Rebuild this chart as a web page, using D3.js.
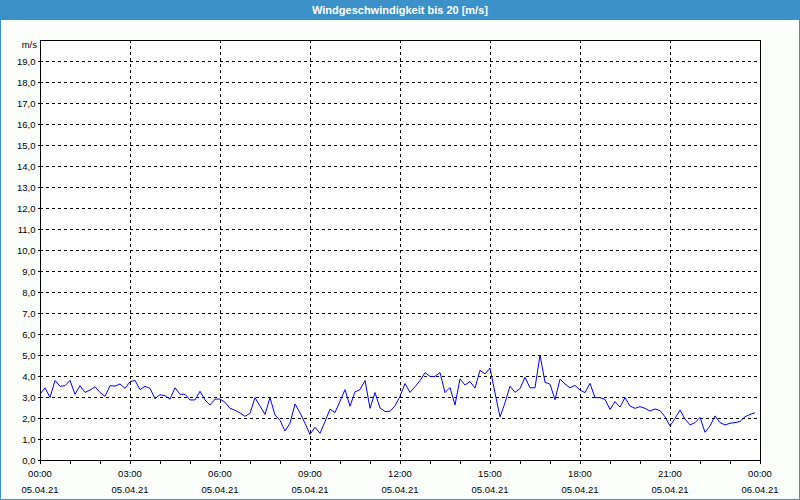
<!DOCTYPE html>
<html>
<head>
<meta charset="utf-8">
<script src="https://cdn.jsdelivr.net/npm/d3@7"></script>
<style>
html,body{margin:0;padding:0;background:#fcfefc;}
svg{display:block;}
text{font-family:"Liberation Sans",Arial,sans-serif;}
</style>
</head>
<body>
<svg id="chart" width="800" height="500"></svg>
<script>
// ---- data ----
const titleText = "Windgeschwindigkeit bis 20 [m/s]";
const unitLabel = "m/s";
const intervalMinutes = 10;
const windSpeed = [
  3.13,3.44,2.98,3.79,3.51,3.54,3.79,3.13,3.54,3.22,
  3.33,3.49,3.21,3.03,3.54,3.52,3.62,3.41,3.73,3.79,
  3.35,3.51,3.41,2.92,3.11,3.06,2.90,3.44,3.13,3.13,
  2.86,2.86,3.27,2.86,2.62,2.90,2.90,2.75,2.46,2.37,
  2.24,2.08,2.22,2.97,2.57,2.17,2.97,2.14,1.89,1.38,
  1.75,2.67,2.25,1.75,1.22,1.56,1.27,1.83,2.42,2.26,
  2.80,3.35,2.56,3.25,3.35,3.79,2.46,3.21,2.48,2.31,
  2.32,2.58,3.03,3.64,3.22,3.49,3.78,4.16,3.98,3.98,
  4.16,3.21,3.45,2.62,3.86,3.57,3.74,3.42,4.27,4.10,
  4.38,3.20,2.05,2.72,3.52,3.22,3.40,3.94,3.44,3.44,
  5.00,3.70,3.61,2.87,3.85,3.62,3.44,3.55,3.33,3.21,
  3.65,2.97,2.97,2.89,2.41,2.78,2.52,2.97,2.57,2.46,
  2.54,2.46,2.33,2.43,2.35,2.06,1.62,1.98,2.38,1.95,
  1.67,1.78,2.03,1.32,1.62,2.10,1.78,1.67,1.75,1.78,
  1.83,2.06,2.17,2.25
];
const xTickHours = [0,3,6,9,12,15,18,21,24];
const timeLabels = ["00:00","03:00","06:00","09:00","12:00","15:00","18:00","21:00","00:00"];
const dateLabels = ["05.04.21","05.04.21","05.04.21","05.04.21","05.04.21","05.04.21","05.04.21","05.04.21","06.04.21"];
const minorTickHours = d3.range(0,25,1);
const yTicks = d3.range(0,20,1);

// ---- layout ----
const W = 800, H = 500;
const m = {left:40, top:40, right:40, bottom:40};
const svg = d3.select("#chart");
const frameBlue = "#3c91c9";

const x = d3.scaleLinear().domain([0,24]).range([m.left, W - m.right]);
const y = d3.scaleLinear().domain([0,20]).range([H - m.bottom, m.top]);

// title bar
svg.append("rect").attr("x",0).attr("y",0).attr("width",W).attr("height",20).attr("fill",frameBlue);
svg.append("text").attr("x",W/2).attr("y",14).attr("text-anchor","middle")
  .attr("fill","#ffffff").attr("font-size","11px").attr("font-weight","bold").text(titleText);

// outer frame
svg.append("path").attr("d",`M0.5,20 V${H-0.5} H${W-0.5} V20`).attr("fill","none")
  .attr("stroke",frameBlue).attr("stroke-width",1);

// plot background
svg.append("rect").attr("x",m.left).attr("y",m.top).attr("width",x(24)-x(0)).attr("height",y(0)-y(20)).attr("fill","#ffffff");

// grid
const g = svg.append("g").attr("shape-rendering","crispEdges");
g.selectAll(".hg").data(yTicks.filter(d=>d>0)).join("line")
  .attr("x1",x(0)).attr("x2",x(24)).attr("y1",d=>Math.round(y(d))+0.5).attr("y2",d=>Math.round(y(d))+0.5)
  .attr("stroke","#000").attr("stroke-dasharray","3,3");
g.selectAll(".vg").data(xTickHours.filter(d=>d>0&&d<24)).join("line")
  .attr("x1",d=>Math.round(x(d))+0.5).attr("x2",d=>Math.round(x(d))+0.5).attr("y1",y(20)).attr("y2",y(0))
  .attr("stroke","#000").attr("stroke-dasharray","3,3");

// axes
const fmt = d => d3.format(".1f")(d).replace(".",",");
const yAxis = d3.axisLeft(y).tickValues(yTicks).tickFormat(fmt).tickSize(3).tickPadding(2);
const ya = svg.append("g").attr("transform",`translate(${m.left+0.5},0)`).call(yAxis);
ya.select(".domain").remove();
ya.selectAll("line").attr("stroke","#000").attr("shape-rendering","crispEdges");
ya.selectAll("text").attr("font-size","9.5px").attr("fill","#000").attr("font-family","Liberation Sans, Arial, sans-serif");

const xAxis = d3.axisBottom(x).tickValues(minorTickHours).tickFormat("").tickSize(3);
const xa = svg.append("g").attr("transform",`translate(0,${H - m.bottom + 0.5})`).call(xAxis);
xa.select(".domain").remove();
xa.selectAll("line").attr("stroke","#000").attr("shape-rendering","crispEdges");

// x labels
const xl = svg.append("g").attr("font-size","9.5px").attr("fill","#000").attr("text-anchor","middle");
xl.selectAll(".t").data(xTickHours).join("text").attr("x",d=>x(d)).attr("y",477).text((d,i)=>timeLabels[i]);
xl.selectAll(".d").data(xTickHours).join("text").attr("x",d=>x(d)).attr("y",493).text((d,i)=>dateLabels[i]);

// unit label
svg.append("text").attr("x",m.left-3).attr("y",y(20)+8).attr("text-anchor","end")
  .attr("font-size","9.5px").attr("fill","#000").text(unitLabel);

// plot border
svg.append("rect").attr("x",m.left+0.5).attr("y",m.top+0.5).attr("width",x(24)-x(0)).attr("height",y(0)-y(20))
  .attr("fill","none").attr("stroke","#000").attr("shape-rendering","crispEdges");

// line
const line = d3.line().x((d,i)=>x(i*intervalMinutes/60)).y(d=>y(d));
svg.append("path").datum(windSpeed).attr("d",line).attr("fill","none")
  .attr("stroke","#0000ff").attr("stroke-width",1);
</script>
</body>
</html>
